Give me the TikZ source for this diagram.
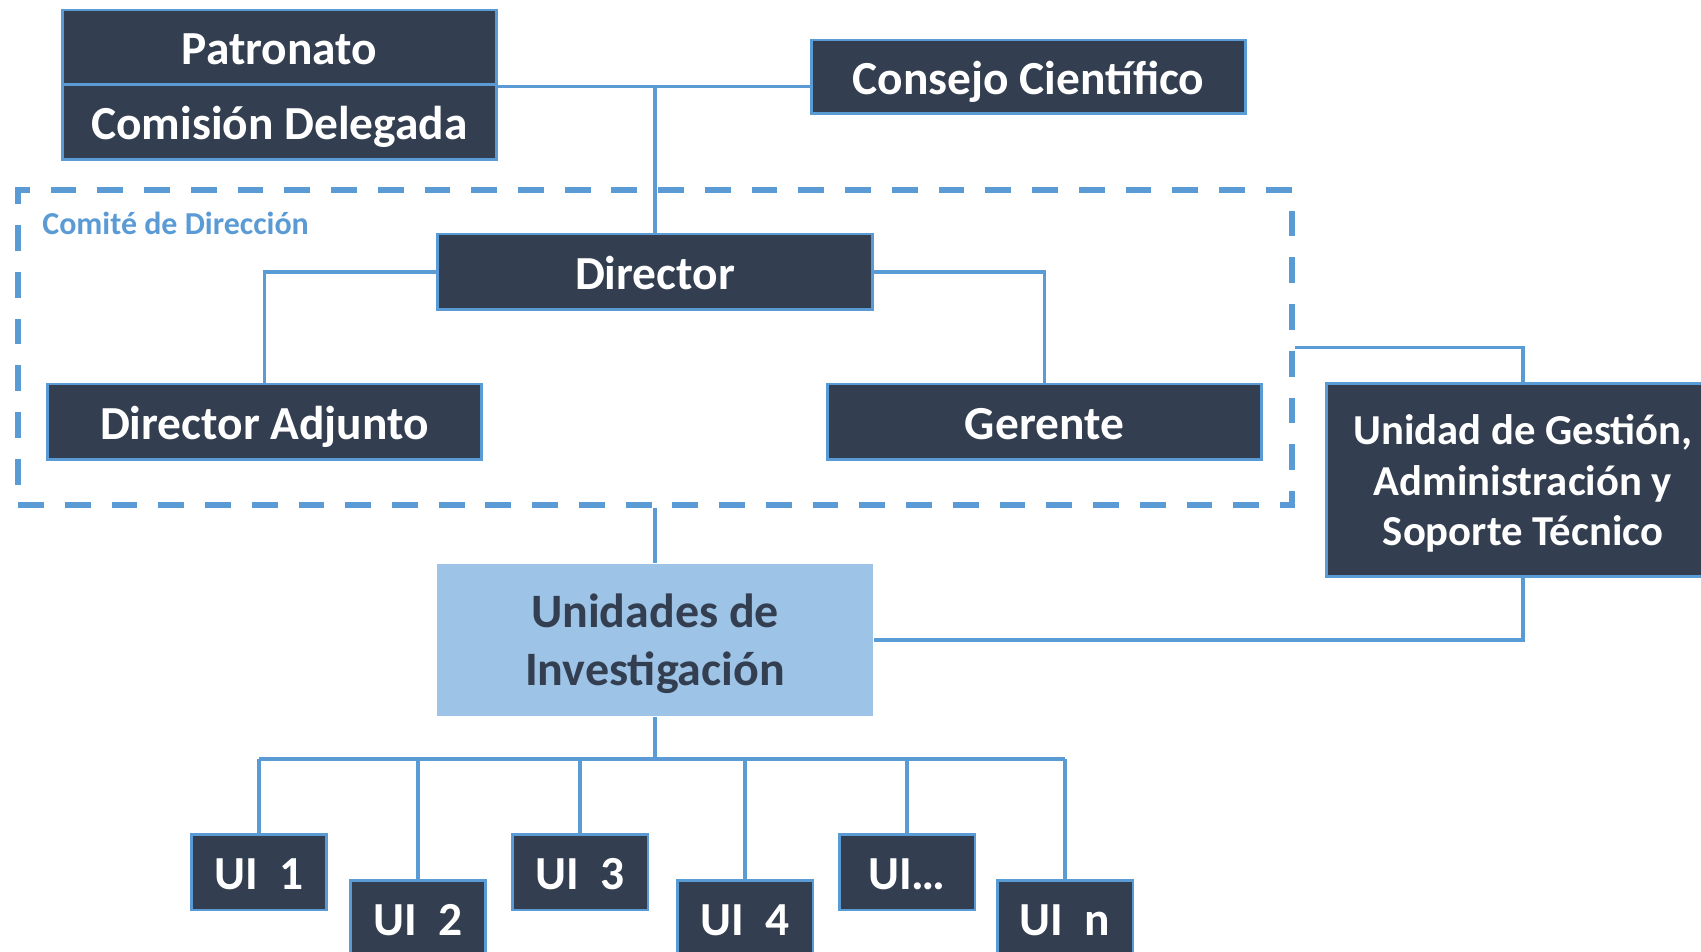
\documentclass[tikz,border=0pt]{standalone}
\usepackage{fontspec}
\setmainfont{Carlito}
\usetikzlibrary{positioning}
\definecolor{boxdark}{HTML}{333F50}
\definecolor{linkblue}{HTML}{5B9BD5}
\definecolor{unitfill}{HTML}{9DC3E6}

\tikzset{
    orgbox/.style={draw=linkblue, line width=1.7pt, fill=boxdark, text=white,
        font=\bfseries\fontsize{27}{32}\selectfont, inner sep=0pt,
        text height=25.6pt, text depth=6.2pt,
        minimum width=8.7cm, minimum height=1.5cm, align=center},
    uibox/.style={orgbox, minimum width=2.72cm, minimum height=1.52cm},
    link/.style={draw=linkblue, line width=2pt},
    comite/.style={draw=linkblue, line width=3.4pt, dash pattern=on 14.7pt off 11.9pt,
        minimum width=25.48cm, minimum height=6.3cm, inner sep=0pt},
}

\begin{document}
\begin{tikzpicture}[x=0.02cm, y=-0.02cm]
        \useasboundingbox (0,0) rectangle (1701,952);
        \clip (0,0) rectangle (1701,952);

        % Top level
        \node[orgbox] (patron) at (279.5,47.5) {Patronato};
        \node[orgbox] (comision) at (279.5,122.5) {Comisión Delegada};
        \node[orgbox, minimum height=1.48cm] (consejo) at (1028.5,77) {Consejo Científico};

        % Comite de Direccion
        \node[comite] (comite) at (655,347.5) {};
        \node[anchor=base west, text=linkblue, inner sep=0pt,
            font=\bfseries\fontsize{18.2}{21}\selectfont] (comitelabel) at (42,235) {Comité de Dirección};
        \node[orgbox, minimum height=1.52cm] (director) at (655,272) {Director};
        \node[orgbox, minimum height=1.52cm] (adjunto) at (264.5,422) {Director Adjunto};
        \node[orgbox, minimum height=1.52cm] (gerente) at (1044.5,422) {Gerente};

        % Gestion and research units
        \node[orgbox, text height={}, text depth=0pt, minimum width=7.88cm, minimum height=3.88cm,
            font=\bfseries\fontsize{24.3}{29}\selectfont] (gestion) at (1523,480)
            {Unidad de Gestión,\\Administración y\\Soporte Técnico};
        \node[orgbox, text height={}, text depth=0pt, fill=unitfill, draw=none, text=boxdark,
            minimum width=8.72cm, minimum height=3.04cm,
            font=\bfseries\fontsize{27.3}{33}\selectfont] (unidades) at (655,640)
            {Unidades de\\Investigación};

        % UI boxes: name/x/y/label
        \foreach \name/\x/\y/\txt in {ui1/259/872/UI\ \ 1, ui2/418/918/UI\ \ 2, ui3/580/872/UI\ \ 3,
                                       ui4/745/918/UI\ \ 4, ui5/907/872/UI…, ui6/1065/918/UI\ \ n} {
            \node[uibox] (\name) at (\x,\y) {\txt};
        }

        % Connectors
        \draw[link] (patron.south east) -- (patron.south east -| consejo.west); % top line
        \draw[link] (director.north) -- (director.north |- patron.south east);
        \draw[link] (director.west) -| (adjunto.north);
        \draw[link] (director.east) -| (gerente.north);
        \draw[link] (comite.east) -| (gestion.north);
        \draw[link] (comite.south) -- (unidades.north);
        \draw[link] (gestion.south) |- (unidades.east);

        \coordinate (bus) at (655,759);
        \draw[link] (unidades.south) -- (bus);
        \draw[link] (ui1.north |- bus) -- (ui6.north |- bus); % bus line
        \foreach \i in {1,...,6} {
            \draw[link] (ui\i.north) -- (ui\i.north |- bus);
        }
    \end{tikzpicture}
\end{document}
